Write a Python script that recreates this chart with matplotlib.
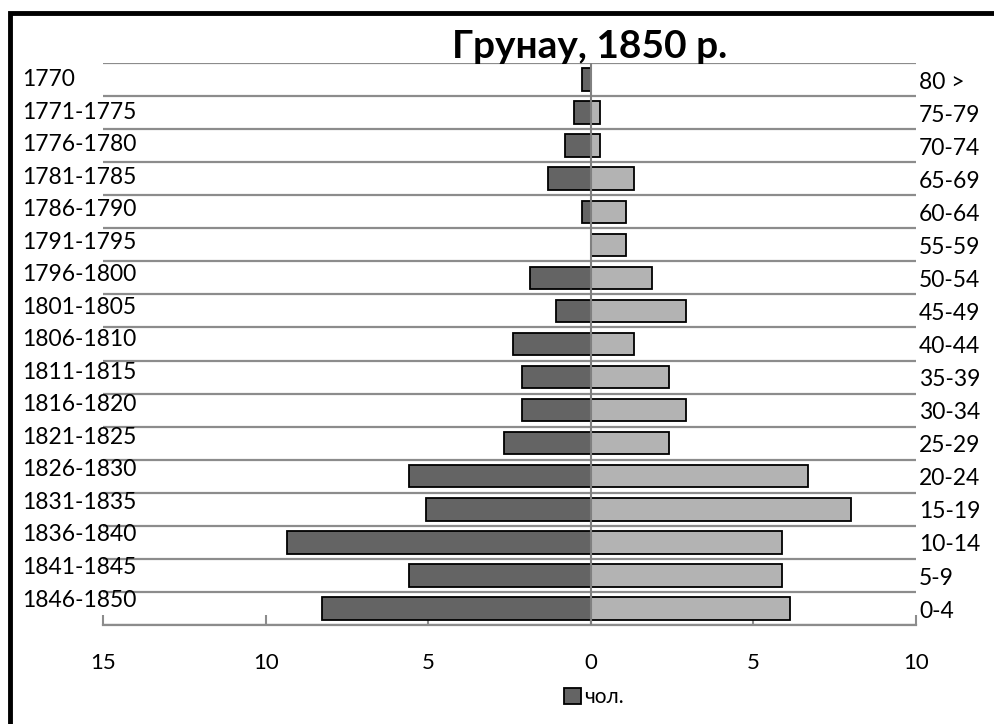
import numpy as np
import matplotlib.pyplot as plt
from matplotlib.patches import Rectangle
from matplotlib.transforms import blended_transform_factory

plt.rcParams['font.family'] = ['Lato', 'DejaVu Sans']

# роки народження (ліва шкала) та вікові групи (права шкала), зверху вниз
years = ['1770', '1771-1775', '1776-1780', '1781-1785', '1786-1790', '1791-1795',
         '1796-1800', '1801-1805', '1806-1810', '1811-1815', '1816-1820', '1821-1825',
         '1826-1830', '1831-1835', '1836-1840', '1841-1845', '1846-1850']
ages = ['80 >', '75-79', '70-74', '65-69', '60-64', '55-59', '50-54', '45-49', '40-44',
        '35-39', '30-34', '25-29', '20-24', '15-19', '10-14', '5-9', '0-4']

# відсотки населення
men = [0.27, 0.53, 0.80, 1.33, 0.27, 0.0, 1.87, 1.07, 2.40, 2.13, 2.13, 2.67,
       5.60, 5.07, 9.33, 5.60, 8.27]
women = [0.0, 0.27, 0.27, 1.33, 1.07, 1.07, 1.87, 2.93, 1.33, 2.40, 2.93, 2.40,
         6.67, 8.00, 5.87, 5.87, 6.13]

xticks = [-15, -10, -5, 0, 5, 10]

W, H = 994, 724
fig = plt.figure(figsize=(W / 100, H / 100), dpi=100)
ax = fig.add_axes([103 / W, 1 - 625 / H, (916 - 103) / W, (625 - 63) / H])

y = np.arange(len(years))
ax.barh(y, [-v for v in men], height=0.68, color='#646464', edgecolor='black',
        linewidth=[1.3 if v else 0 for v in men], zorder=3, label='чол.')
ax.barh(y, women, height=0.68, color='#b3b3b3', edgecolor='black',
        linewidth=[1.3 if v else 0 for v in women], zorder=3)
ax.axvline(0, color='#808080', lw=1.5, zorder=4)

ax.set_xlim(-15, 10)
ax.set_ylim(len(years) - 0.5, -0.5)

# горизонтальна сітка між категоріями
ax.set_yticks(np.arange(-0.5, len(years), 1), minor=True)
ax.set_yticks([])
ax.grid(which='minor', axis='y', color='#8c8c8c', lw=1.6, zorder=1)
ax.tick_params(axis='y', which='minor', length=0)

ax.set_xticks(xticks)
ax.set_xticklabels([str(abs(t)) for t in xticks], fontsize=16)
ax.tick_params(axis='x', direction='in', length=7, width=1.5, color='#8c8c8c', pad=20)

for s in ['top', 'left', 'right']:
    ax.spines[s].set_visible(False)
ax.spines['bottom'].set_color('#8c8c8c')
ax.spines['bottom'].set_linewidth(1.6)

# підписи осей категорій: ліва трохи щільніша, права по центрах рядків
tr = blended_transform_factory(fig.transFigure, ax.transData)
for i in range(len(years)):
    ax.text(22 / W, i * 0.984, years[i], transform=tr, ha='left', va='center', fontsize=16.5)
    ax.text(919 / W, i + 0.08, ages[i], transform=tr, ha='left', va='center', fontsize=16.5)

fig.text(590 / W, 1 - 47 / H, 'Грунау, 1850 р.', ha='center', va='center',
         fontsize=28, fontweight='bold')

h, l = ax.get_legend_handles_labels()
fig.legend(h, l, loc='center', bbox_to_anchor=(594 / W, 1 - 697 / H), frameon=False,
           fontsize=15, handlelength=0.8, handleheight=0.8, handletextpad=0.15)

# рамка діаграми
fig.add_artist(Rectangle((9.5 / W, -0.5), 2, 1.5 - 12.5 / H, transform=fig.transFigure,
                         fill=False, ec='black', lw=3.5))

fig.savefig('out.png', dpi=100)
